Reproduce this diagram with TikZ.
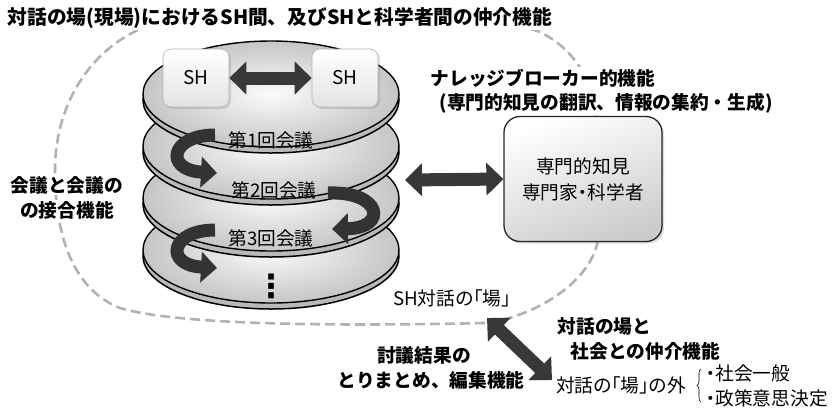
\documentclass[tikz,border=0pt]{standalone}
\usepackage{fontspec}
\newfontfamily\jp{Noto Sans CJK JP}
\newfontfamily\jpp{Noto Sans CJK JP}[CharacterWidth=AlternateProportional]
\newfontfamily\dvs{DejaVu Sans}
\usetikzlibrary{arrows.meta,shadows,decorations.pathreplacing}
\begin{document}
\begin{tikzpicture}[x=1pt,y=-1pt,
  bl/.style={font=\jp\bfseries\fontsize{18.7}{22}\selectfont, inner sep=1.5pt, fill=white},
  rg/.style={font=\jp\fontsize{18.7}{22}\selectfont, inner sep=1pt},
  rgp/.style={font=\jpp\fontsize{18.7}{22}\selectfont, inner sep=1pt},
  loopline/.style={draw=gray!60, line width=2.6pt, dash pattern=on 10pt off 5pt},
  diskrim/.style={fill=gray!55, draw=black, line width=1.5pt},
  disktop/.style={inner color=gray!3, outer color=gray!45, draw=black, line width=1.4pt},
  shbox/.style={draw=gray!60, line width=0.6pt, rounded corners=8pt, top color=white, bottom color=gray!22, minimum width=66pt, minimum height=58pt, inner sep=0pt, font=\jp\fontsize{19}{22}\selectfont, drop shadow={opacity=0.25,shadow xshift=2pt,shadow yshift=-2pt}},
  knowbox/.style={draw=black!85, line width=1.3pt, rounded corners=16pt, top color=white, bottom color=gray!40, shading angle=20, minimum width=158pt, minimum height=125pt, inner sep=0pt, align=center, font=\jpp\fontsize{18.7}{26}\selectfont, drop shadow={opacity=0.3,shadow xshift=2pt,shadow yshift=-2pt}},
  bigarrow/.style={draw=black!78, line width=13pt, arrows={Triangle[width=32pt,length=17pt]-Triangle[width=32pt,length=17pt]}},
  turnarrow/.style={draw=black!80, line width=13pt, arrows={-Triangle[width=30pt,length=16pt]}}
]
\useasboundingbox (0,0) rectangle (834,413);

% dashed loop of the dialogue field
\path[loopline] (485,323) .. controls (350,326) and (180,326) .. (120,308)
  .. controls (75,290) and (55,240) .. (55,170)
  .. controls (55,110) and (85,55) .. (138,30)
  .. controls (175,10) and (480,8) .. (540,32)
  .. controls (580,52) and (598,90) .. (598,140) -- (598,240)
  .. controls (590,285) and (530,318) .. (485,323) -- cycle;

% stack of disks (bottom first)
\foreach \cy in {250,198,146,94}{
  \path[diskrim] (271,\cy+6) ellipse [x radius=128, y radius=53];
  \path[disktop] (271,\cy) ellipse [x radius=128, y radius=53];
}

% texts on the disks
\node[rg] (m1) at (271,140) {第1回会議};
\node[rg] (m2) at (274,190) {第2回会議};
\node[rg] (m3) at (271,238) {第3回会議};
\node[inner sep=0pt, font=\dvs\bfseries\fontsize{32}{34}\selectfont] (m4) at (271,286) {⋮};

% turning arrows between meetings
\coordinate (t1s) at (215,135);
\coordinate (t1e) at (217,173);
\coordinate (t2s) at (328,193);
\coordinate (t2e) at (332,229);
\coordinate (t3s) at (215,230);
\coordinate (t3e) at (217,268);
\draw[turnarrow] (t1s) .. controls (170,135) and (164,170) .. (t1e);
\draw[turnarrow] (t2s) .. controls (382,191) and (388,228) .. (t2e);
\draw[turnarrow] (t3s) .. controls (170,230) and (164,265) .. (t3e);

% stakeholders
\node[shbox] (shL) at (196,78) {SH};
\node[shbox] (shR) at (345,78) {SH};
\draw[bigarrow] (shL.east) -- (shR.west);

% expert knowledge box
\node[knowbox] (know) at (583,179) {専門的知見\\専門家・科学者};
\coordinate (mL) at (405,180);
\draw[bigarrow] (mL) -- (know.west);

% labels
\node[bl, anchor=west, font=\jp\bfseries\fontsize{19.7}{22}\selectfont] (title) at (6,18) {対話の場(現場)におけるSH間、及びSHと科学者間の仲介機能};
\node[bl, anchor=west] (kb1) at (429,78) {ナレッジブローカー的機能};
\node[bl, anchor=west] (kb2) at (438,103) {(専門的知見の翻訳、情報の集約・生成)};
\node[bl] (j1) at (67,185) {会議と会議の};
\node[bl] (j2) at (67,210) {の接合機能};
\node[rgp, anchor=west] (field) at (392,298) {SH対話の「場」};

% mediation with society
\coordinate (dA) at (487,318);
\coordinate (dB) at (552,380);
\draw[bigarrow] (dA) -- (dB);
\node[bl, anchor=west, fill=none] (s1) at (556,326) {対話の場と};
\node[bl, anchor=west, fill=none] (s2) at (569,351) {社会との仲介機能};
\node[bl, fill=none] (e1) at (424,355) {討議結果の};
\node[bl, fill=none] (e2) at (431,380) {とりまとめ、編集機能};
\node[rgp, anchor=west] (out) at (555,385) {対話の「場」の外};
\coordinate (brB) at (701,402);
\coordinate (brT) at (701,369);
\draw[line width=0.6pt, decorate, decoration={brace, amplitude=4pt}] (brB) -- (brT);
\node[rgp, anchor=west] (o1) at (705,373) {・社会一般};
\node[rgp, anchor=west] (o2) at (705,398) {・政策意思決定};
\end{tikzpicture}
\end{document}
